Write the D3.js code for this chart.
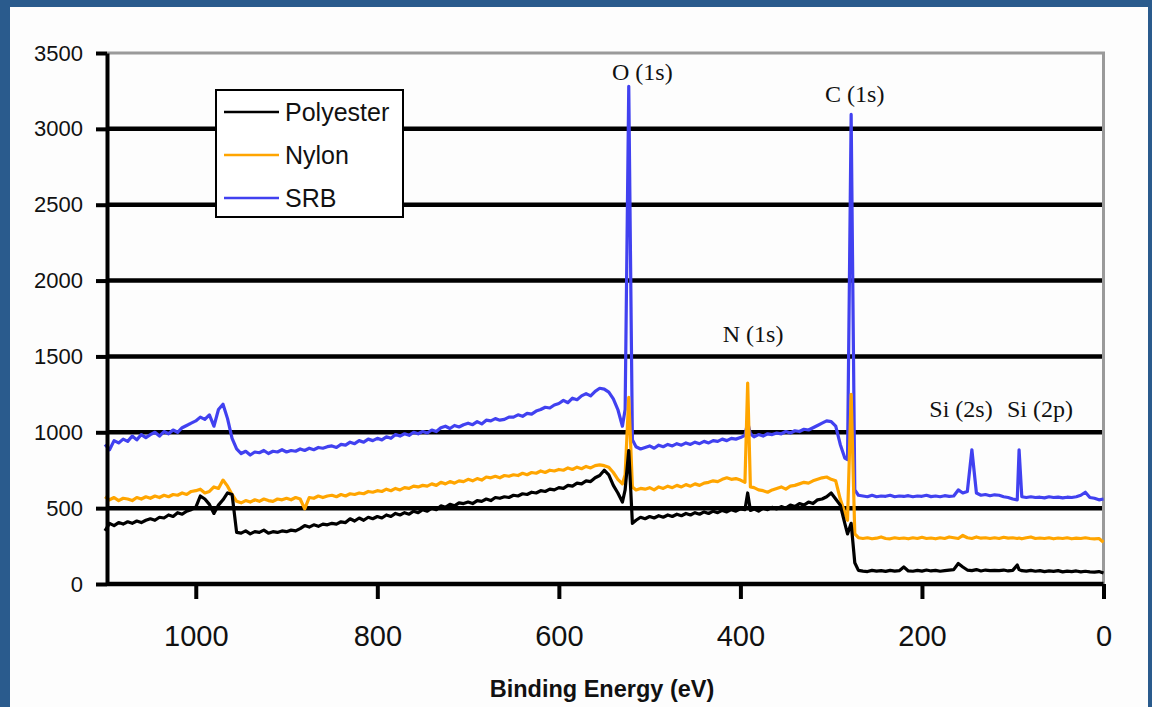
<!DOCTYPE html>
<html>
<head>
<meta charset="UTF-8">
<style>
  body { margin: 0; background: #2a5b8d; }
  svg { display: block; }
</style>
</head>
<body>
<svg></svg>
<script src="https://d3js.org/d3.v7.min.js"></script>
<script>

let width = 1152, height = 707;

// binding energy (eV), shared by the three spectra
let energy = [
  1100, 1095, 1090, 1085, 1080, 1075, 1070, 1065, 1060, 1055,
  1050, 1045, 1040, 1035, 1030, 1025, 1020, 1015, 1010, 1005,
  1000, 995, 990, 985, 980, 975, 970, 965, 960, 955,
  950, 945, 940, 935, 930, 925, 920, 915, 910, 905,
  900, 895, 890, 885, 880, 875, 870, 865, 860, 855,
  850, 845, 840, 835, 830, 825, 820, 815, 810, 805,
  800, 795, 790, 785, 780, 775, 770, 765, 760, 755,
  750, 745, 740, 735, 730, 725, 720, 715, 710, 705,
  700, 695, 690, 685, 680, 675, 670, 665, 660, 655,
  650, 645, 640, 635, 630, 625, 620, 615, 610, 605,
  600, 595, 590, 585, 580, 575, 570, 565, 560, 555,
  550, 545, 540, 535, 530, 527, 523, 519, 515, 510,
  505, 500, 495, 490, 485, 480, 475, 470, 465, 460,
  455, 450, 445, 440, 435, 430, 425, 420, 415, 410,
  405, 400, 395, 392, 389, 385, 380, 375, 370, 365,
  360, 355, 350, 345, 340, 335, 330, 325, 320, 315,
  310, 305, 300, 295, 290, 285, 282, 278, 274, 270,
  265, 260, 255, 250, 245, 240, 235, 230, 225, 220,
  215, 210, 205, 200, 195, 190, 185, 180, 175, 170,
  165, 160, 155, 150, 145, 140, 135, 130, 125, 120,
  115, 110, 105, 100, 95, 93, 90, 85, 80, 75,
  70, 65, 60, 55, 50, 45, 40, 35, 30, 25,
  20, 15, 10, 5, 0
];

let polyester = [
  350, 400, 385, 405, 395, 410, 400, 415, 405, 420,
  430, 420, 440, 435, 455, 445, 470, 460, 480, 490,
  505, 580, 560, 525, 465, 520, 555, 600, 590, 340,
  335, 350, 330, 345, 340, 355, 335, 345, 340, 350,
  345, 355, 350, 365, 385, 375, 390, 380, 395, 390,
  400, 395, 410, 405, 430, 415, 435, 420, 440, 430,
  445, 435, 455, 445, 465, 455, 470, 460, 480, 470,
  490, 480, 500, 490, 515, 505, 525, 515, 535, 530,
  540, 530, 550, 545, 560, 550, 570, 565, 575, 570,
  585, 580, 595, 590, 605, 600, 615, 610, 625, 620,
  635, 630, 650, 645, 665, 660, 680, 675, 700, 715,
  750, 720, 650, 600, 540, 620, 880, 400, 420, 440,
  430, 445, 435, 450, 440, 455, 445, 460, 450, 465,
  455, 470, 460, 475, 465, 480, 470, 485, 475, 490,
  480, 495, 490, 600, 485, 495, 480, 500, 490, 505,
  495, 510, 500, 520, 510, 530, 520, 540, 530, 555,
  560, 575, 600, 560, 520, 400, 330, 400, 140, 90,
  85, 82, 90, 85, 88, 83, 90, 85, 88, 112,
  86, 84, 90, 85, 92, 86, 90, 84, 88, 92,
  95, 135, 112, 92, 88, 95, 86, 92, 88, 90,
  88, 92, 86, 90, 125, 95, 88, 85, 90, 84,
  88, 82, 86, 83, 88, 80, 85, 82, 86, 80,
  84, 80, 78, 82, 72
];

let nylon = [
  575, 555, 570, 550, 565, 560, 550, 570, 560, 575,
  565, 580, 570, 585, 575, 590, 585, 600, 590, 610,
  615, 625, 600, 610, 640, 630, 685, 645, 590, 545,
  535, 550, 540, 555, 545, 560, 550, 545, 560, 555,
  565, 555, 570, 560, 495, 570, 565, 580, 570, 580,
  585, 575, 590, 580, 595, 590, 600, 595, 610, 605,
  615, 610, 625, 615, 630, 620, 635, 630, 645, 640,
  650, 645, 660, 650, 670, 660, 675, 665, 680, 675,
  690, 680, 695, 685, 705, 700, 710, 700, 715, 710,
  720, 715, 730, 720, 735, 730, 745, 735, 750, 745,
  755, 750, 765, 755, 770, 760, 775, 765, 780, 785,
  780, 770, 735, 690, 660, 720, 1230, 640, 620, 630,
  625, 635, 620, 640, 630, 645, 635, 650, 640, 655,
  645, 660, 650, 665, 670, 680, 675, 690, 700, 690,
  695, 685, 670, 1325, 640, 635, 620, 615, 605, 620,
  630, 640, 625, 645, 650, 660, 670, 665, 680, 690,
  700, 705, 690, 680, 560, 470, 420, 1250, 330, 305,
  300, 305, 298, 302, 310, 300, 298, 305, 300, 303,
  298, 305, 300, 308, 300, 303, 298, 305, 300, 310,
  305, 300, 320, 305, 300, 310, 302, 305, 300, 305,
  300, 308, 302, 305, 300, 303, 298, 305, 310, 300,
  303, 300, 305, 298, 303, 300, 305, 298, 302, 300,
  305, 300, 298, 300, 275
];

let srb = [
  920, 885, 945, 930, 955, 940, 975, 950, 985, 965,
  985, 1000, 975, 1005, 990, 1015, 1000, 1030, 1045, 1060,
  1075, 1100, 1085, 1115, 1040, 1150, 1185, 1090, 960, 890,
  860, 875, 850, 870, 865, 880, 860, 875, 870, 885,
  870, 880, 875, 890, 880, 895, 885, 900, 895, 905,
  910, 900, 920, 915, 935, 925, 945, 935, 955, 945,
  960, 950, 970, 960, 985, 975, 990, 980, 1000, 990,
  1005, 995, 1015, 1005, 1030, 1040, 1025, 1045, 1035, 1050,
  1060, 1050, 1070, 1055, 1080, 1075, 1090, 1080, 1085, 1100,
  1100, 1115, 1105, 1125, 1120, 1140, 1150, 1165, 1160, 1180,
  1190, 1210, 1195, 1225, 1215, 1240, 1255, 1240, 1270, 1290,
  1285, 1265, 1220, 1150, 1040, 1150, 3280, 950, 905, 890,
  900, 910, 895, 915, 905, 920, 910, 925, 915, 930,
  920, 935, 925, 940, 930, 945, 940, 955, 945, 960,
  955, 965, 980, 1065, 990, 970, 985, 975, 990, 985,
  995, 990, 1005, 995, 1010, 1005, 1020, 1015, 1030, 1045,
  1060, 1075, 1070, 1040, 920, 830, 820, 3095, 620, 585,
  580, 575, 585, 575, 580, 578, 585, 575, 580, 577,
  582, 575, 580, 578, 585, 576, 580, 575, 582, 578,
  580, 620, 600, 610, 885, 600, 585, 590, 582, 588,
  585, 575, 570, 560, 555, 885, 575, 570, 575, 570,
  572, 568, 575, 570, 573, 568, 572, 570, 575, 585,
  605, 570, 565, 555, 560
];

let seriesNames = ["Polyester", "Nylon", "SRB"];
let seriesColors = ["#000000", "#ffa500", "#4141f0"];
let yTicks = [0, 500, 1000, 1500, 2000, 2500, 3000, 3500];
let xTicks = [1000, 800, 600, 400, 200, 0];

// peak annotations: label, energy, counts where the text sits
let peakLabels = ["O (1s)", "C (1s)", "N (1s)", "Si (2s)", "Si (2p)"];
let peakEnergy = [508, 274, 386, 157, 70];
let peakCounts = [3322, 3177, 1595, 1101, 1101];

let svg = d3.select("svg")
    .attr("width", width)
    .attr("height", height);

// blue slide frame + white page
svg.append("rect").attr("width", width).attr("height", height).attr("fill", "#2a5b8d");
svg.append("rect").attr("x", 10).attr("y", 7).attr("width", 1138).attr("height", 700).attr("fill", "#fdfdfd");

let x = d3.scaleLinear().domain([1100, 0]).range([105, 1103.5]);
let y = d3.scaleLinear().domain([0, 3500]).range([584, 53]);

// grid
svg.append("g")
    .selectAll("line")
    .data(yTicks.filter(d => d > 0 && d < 3500))
    .enter()
    .append("line")
    .attr("x1", 107).attr("x2", 1104)
    .attr("y1", d => y(d)).attr("y2", d => y(d))
    .style("stroke", "black")
    .style("stroke-width", 4.5);

// top and right border of plot area
svg.append("path")
    .attr("d", `M107,${y(3500)}H${x(0)}V${y(0)}`)
    .style("fill", "none")
    .style("stroke", "#9a9a9a")
    .style("stroke-width", 3);

// spectra
let line = d3.line()
    .x((d, i) => x(energy[i]))
    .y(d => y(d));

let allSeries = [polyester, nylon, srb];
[2, 1, 0].forEach(k => {
    svg.append("path")
        .datum(allSeries[k])
        .attr("d", line)
        .style("fill", "none")
        .style("stroke", seriesColors[k])
        .style("stroke-width", 3.2)
        .style("stroke-linejoin", "round");
});

// axes
let yAxis = svg.append("g")
    .attr("transform", "translate(107,0)")
    .call(d3.axisLeft(y).tickValues(yTicks).tickFormat(d3.format("d"))
        .tickSize(11).tickSizeOuter(0).tickPadding(13));
yAxis.select(".domain").style("stroke", "black").style("stroke-width", 4);
yAxis.selectAll(".tick line").style("stroke", "black").style("stroke-width", 4);
yAxis.selectAll("text")
    .style("font-family", "Liberation Sans, Arial, sans-serif")
    .style("font-size", "22px")
    .style("fill", "#111");

let xAxis = svg.append("g")
    .attr("transform", "translate(0,584)")
    .call(d3.axisBottom(x).tickValues(xTicks).tickFormat(d3.format("d"))
        .tickSize(15).tickSizeOuter(0).tickPadding(26));
xAxis.select(".domain").attr("d", `M107,0H${x(0)}`).style("stroke", "black").style("stroke-width", 4.5);
xAxis.selectAll(".tick line").style("stroke", "black").style("stroke-width", 4);
xAxis.selectAll("text")
    .style("font-family", "Liberation Sans, Arial, sans-serif")
    .style("font-size", "29px")
    .style("fill", "#111");

svg.append("text")
    .attr("x", 602)
    .attr("y", 697)
    .attr("text-anchor", "middle")
    .style("font-family", "Liberation Sans, Arial, sans-serif")
    .style("font-weight", "bold")
    .style("font-size", "23.5px")
    .style("fill", "#111")
    .text("Binding Energy (eV)");

// peak labels
svg.append("g")
    .selectAll("text")
    .data(peakLabels)
    .enter()
    .append("text")
    .attr("x", (d, i) => x(peakEnergy[i]))
    .attr("y", (d, i) => y(peakCounts[i]))
    .attr("text-anchor", "middle")
    .style("font-family", "Liberation Serif, Times New Roman, serif")
    .style("font-size", "24px")
    .style("fill", "#111")
    .text(d => d);

// legend
let legend = svg.append("g").attr("transform", "translate(216,90)");
legend.append("rect")
    .attr("width", 187).attr("height", 127)
    .style("fill", "white")
    .style("stroke", "black")
    .style("stroke-width", 2);
seriesNames.forEach((name, i) => {
    let ly = 22 + i * 43;
    legend.append("line")
        .attr("x1", 8).attr("x2", 63)
        .attr("y1", ly).attr("y2", ly)
        .style("stroke", seriesColors[i])
        .style("stroke-width", 2.5);
    legend.append("text")
        .attr("x", 69).attr("y", ly)
        .attr("dy", "0.36em")
        .style("font-family", "Liberation Sans, Arial, sans-serif")
        .style("font-size", "25px")
        .style("fill", "#111")
        .text(name);
});

</script>
</body>
</html>
